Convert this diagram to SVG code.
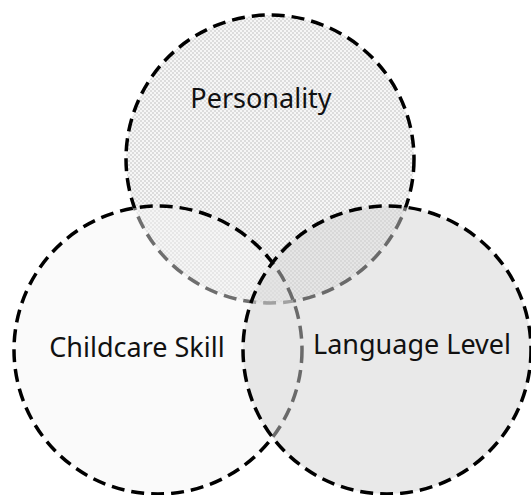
<svg xmlns="http://www.w3.org/2000/svg" width="531" height="495" viewBox="0 0 531 495">
  <defs>
    <!-- fine checker used as the fill of the top circle -->
    <pattern id="checker" width="4" height="4" patternUnits="userSpaceOnUse">
      <rect width="4" height="4" fill="#f6f6f6"/>
      <rect width="2" height="2" fill="#dcdcdc"/>
      <rect x="2" y="2" width="2" height="2" fill="#dcdcdc"/>
    </pattern>
  </defs>
  <style>
    .ring { stroke: #000; stroke-width: 3.5; stroke-dasharray: 13 7; }
    .label { font-family: "Noto Sans", "DejaVu Sans", sans-serif; font-size: 27px; fill: #111; text-anchor: middle; }
  </style>
  <rect width="531" height="495" fill="#fff"/>

  <g id="personality">
    <circle class="ring" cx="270" cy="159" r="144" fill="url(#checker)"/>
    <text class="label" x="261" y="108">Personality</text>
  </g>

  <g id="childcare-skill">
    <circle class="ring" cx="158" cy="350" r="144" fill="#f4f4f4" fill-opacity="0.45"/>
    <text class="label" x="137" y="357">Childcare Skill</text>
  </g>

  <g id="language-level">
    <circle class="ring" cx="387" cy="350" r="144" fill="#d3d3d3" fill-opacity="0.5"/>
    <text class="label" x="412" y="354">Language Level</text>
  </g>

  <g id="connectors"/>
</svg>
